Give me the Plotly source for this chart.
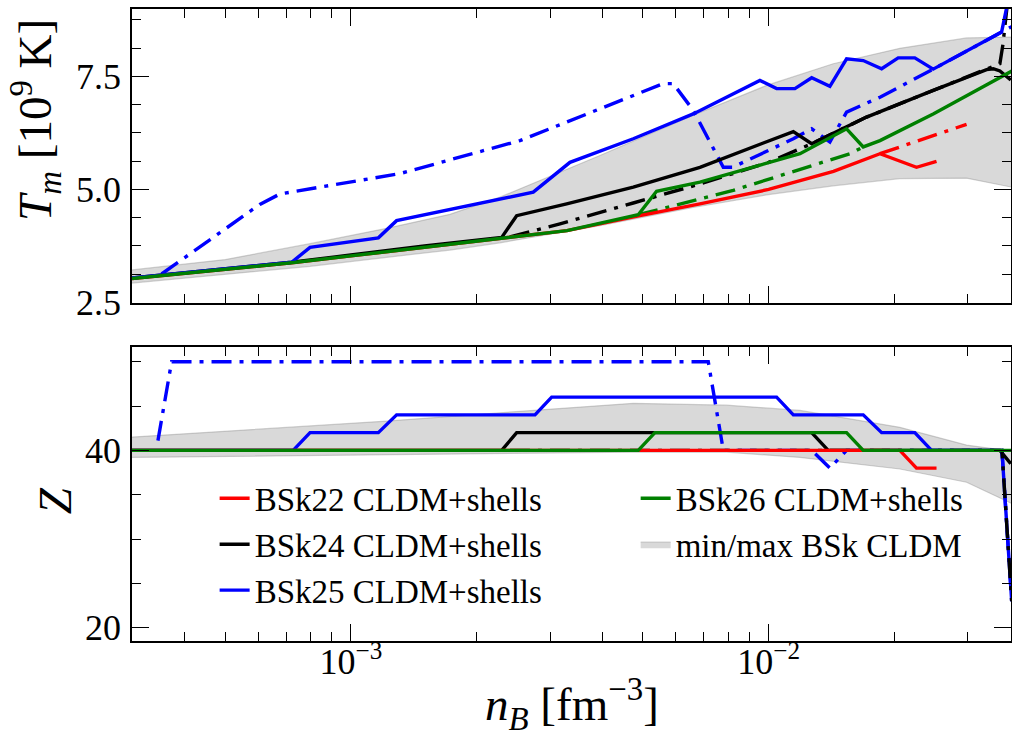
import plotly.graph_objects as go
from plotly.subplots import make_subplots

# ---------------- data ----------------
# Top panel: T_m [1e9 K] vs n_B [fm^-3]
band_n = [2.99e-4, 5.0e-4, 7.98e-4, 1.218e-3, 1.726e-3, 2.274e-3, 3.947e-3,
          6.6e-3, 9.89e-3, 1.428e-2, 2.062e-2, 2.979e-2, 3.824e-2]
band_T_hi = [3.22, 3.45, 3.8, 4.14, 4.45, 4.83, 5.75, 6.64, 7.3, 7.78, 8.12, 8.35, 8.37]
band_T_lo = [2.93, 3.12, 3.3, 3.5, 3.66, 3.82, 4.2, 4.6, 4.88, 5.08, 5.24, 5.25, 5.05]

red_n = [2.99e-4, 4.35e-4, 7.21e-4, 1.0e-3, 1.5e-3, 2.27e-3, 3.29e-3, 4.92e-3,
         6.85e-3, 1.0e-2, 1.43e-2, 1.848e-2, 2.26e-2, 2.524e-2]
red_T = [3.03, 3.18, 3.38, 3.53, 3.72, 3.9, 4.09, 4.42, 4.68, 5.0, 5.4, 5.79, 5.49, 5.62]
red_dd_n = [1.848e-2, 2.979e-2]
red_dd_T = [5.79, 6.44]

black_n = [2.99e-4, 4.35e-4, 7.21e-4, 1.0e-3, 1.5e-3, 2.296e-3, 2.493e-3, 3.285e-3,
           4.742e-3, 6.848e-3, 1.146e-2, 1.268e-2, 1.716e-2, 2.478e-2, 3.326e-2,
           3.45e-2, 3.58e-2, 3.80e-2]
black_T = [3.04, 3.19, 3.39, 3.55, 3.75, 3.94, 4.42, 4.68, 5.05, 5.49, 6.28, 6.01,
           6.6, 7.19, 7.65, 7.67, 7.62, 7.42]
black_dd_n = [2.402e-3, 3.166e-3, 4.742e-3, 6.848e-3, 1.0e-2, 1.268e-2, 1.716e-2,
              2.478e-2, 3.326e-2, 3.579e-2, 3.639e-2, 3.75e-2]
black_dd_T = [3.95, 4.24, 4.7, 5.12, 5.6, 6.01, 6.6, 7.19, 7.65, 7.78, 8.2, 9.3]

blue_n = [2.99e-4, 4.35e-4, 7.21e-4, 7.98e-4, 1.163e-3, 1.286e-3, 2.191e-3, 2.732e-3,
          3.345e-3, 4.742e-3, 6.6e-3, 9.532e-3, 1.045e-2, 1.156e-2, 1.268e-2,
          1.402e-2, 1.537e-2, 1.685e-2, 1.865e-2, 2.043e-2, 2.239e-2, 2.478e-2,
          3.613e-2, 3.75e-2]
blue_T = [3.04, 3.19, 3.39, 3.72, 3.93, 4.31, 4.76, 4.94, 5.60, 6.12, 6.67, 7.41,
          7.23, 7.23, 7.47, 7.28, 7.89, 7.85, 7.67, 7.91, 7.91, 7.66, 8.48, 9.2]
blue_dd_n = [3.52e-4, 6.05e-4, 6.76e-4, 1.31e-3, 2.539e-3, 5.594e-3, 5.91e-3, 6.6e-3,
             7.79e-3, 8.2e-3, 1.146e-2, 1.268e-2, 1.402e-2, 1.537e-2, 1.848e-2,
             2.478e-2, 3.613e-2, 3.82e-2]
blue_dd_T = [3.13, 4.67, 4.90, 5.35, 6.08, 7.34, 7.34, 6.75, 5.49, 5.49, 6.12, 6.34,
             6.05, 6.71, 7.04, 7.66, 8.48, 8.6]

green_n = [2.99e-4, 4.35e-4, 7.21e-4, 1.0e-3, 1.5e-3, 2.27e-3, 3.29e-3, 4.874e-3,
           5.392e-3, 6.848e-3, 1.189e-2, 1.537e-2, 1.685e-2, 1.848e-2, 2.478e-2, 3.824e-2]
green_T = [3.03, 3.18, 3.38, 3.53, 3.72, 3.9, 4.09, 4.44, 4.96, 5.16, 5.79, 6.34,
           5.94, 6.08, 6.67, 7.62]
green_dd_n = [4.874e-3, 6.848e-3, 8.227e-3, 1.565e-2, 1.685e-2]
green_dd_T = [4.44, 4.79, 4.98, 5.79, 5.94]

# Bottom panel: Z vs n_B
zband_n = [2.99e-4, 1.218e-3, 2.539e-3, 4.742e-3, 7.93e-3, 1.189e-2, 2.062e-2,
           2.979e-2, 3.824e-2]
zband_hi = [41.5, 43.3, 44.4, 45.3, 45.1, 44.5, 42.6, 40.6, 39.9]
zband_lo = [39.2, 39.5, 39.7, 39.8, 39.8, 39.2, 37.9, 36.4, 34.0]

red_z_n = [2.99e-4, 2.062e-2, 2.26e-2, 2.524e-2]
red_z = [40, 40, 38, 38]
black_z_n = [2.99e-4, 2.296e-3, 2.493e-3, 1.268e-2, 1.389e-2, 3.58e-2, 3.80e-2]
black_z = [40, 40, 42, 42, 40, 40, 38.5]
black_dd_z_n = [2.402e-3, 3.62e-2, 3.82e-2]
black_dd_z = [40, 40, 23]
blue_z_n = [2.99e-4, 7.27e-4, 7.98e-4, 1.163e-3, 1.286e-3, 2.758e-3, 3.024e-3,
            1.045e-2, 1.146e-2, 1.685e-2, 1.865e-2, 2.239e-2, 2.456e-2, 3.62e-2, 3.82e-2]
blue_z = [40, 40, 42, 42, 44, 44, 46, 46, 44, 44, 42, 42, 40, 40, 23]
blue_dd_z_n = [3.45e-4, 3.72e-4, 7.17e-3, 7.79e-3, 1.268e-2, 1.402e-2, 1.537e-2,
               3.62e-2, 3.82e-2]
blue_dd_z = [41.1, 50, 50, 40, 40, 38, 40, 40, 23]
green_z_n = [2.99e-4, 4.874e-3, 5.343e-3, 1.537e-2, 1.685e-2, 3.824e-2]
green_z = [40, 40, 42, 42, 40, 40]

x_ticks = [1e-3, 1e-2]
x_ticktext = ["10<sup>−3</sup>", "10<sup>−2</sup>"]
labels = ["BSk22 CLDM+shells", "BSk24 CLDM+shells", "BSk25 CLDM+shells",
          "BSk26 CLDM+shells", "min/max BSk CLDM"]

# ---------------- figure ----------------
FONT = "Liberation Serif"
RED, BLACK, BLUE, GREEN = "#ff0000", "#000000", "#0000ff", "#008000"
DD = "20px,8px,4px,8px"
LW = 3.4

fig = make_subplots(rows=2, cols=1, shared_xaxes=True, vertical_spacing=0.0712)

def band(xs, lo, hi, row, show):
    fig.add_trace(go.Scatter(x=xs, y=lo, mode="lines",
                             line=dict(color="rgba(128,128,128,0.35)", width=1.2),
                             legend="legend2", showlegend=False, hoverinfo="skip"),
                  row=row, col=1)
    fig.add_trace(go.Scatter(x=xs, y=hi, mode="lines", fill="tonexty",
                             fillcolor="rgba(128,128,128,0.3)",
                             line=dict(color="rgba(128,128,128,0.35)", width=1.2),
                             name=labels[4], legend="legend2", showlegend=show,
                             legendrank=2), row=row, col=1)

def line(xs, ys, color, row, dash="solid", name=None, legend="legend", rank=1):
    fig.add_trace(go.Scatter(x=xs, y=ys, mode="lines",
                             line=dict(color=color, width=LW, dash=dash),
                             name=name, showlegend=name is not None,
                             legend=legend, legendrank=rank), row=row, col=1)

# top panel
band(band_n, band_T_lo, band_T_hi, 1, True)
line(red_dd_n, red_dd_T, RED, 1, DD)
line(black_dd_n, black_dd_T, BLACK, 1, DD)
line(blue_dd_n, blue_dd_T, BLUE, 1, DD)
line(green_dd_n, green_dd_T, GREEN, 1, DD)
line(red_n, red_T, RED, 1, name=labels[0], rank=1)
line(black_n, black_T, BLACK, 1, name=labels[1], rank=2)
line(blue_n, blue_T, BLUE, 1, name=labels[2], rank=3)
line(green_n, green_T, GREEN, 1, name=labels[3], legend="legend2", rank=1)

# bottom panel
band(zband_n, zband_lo, zband_hi, 2, False)
line(blue_dd_z_n, blue_dd_z, BLUE, 2, DD)
line(black_z_n, black_z, BLACK, 2)
line(blue_z_n, blue_z, BLUE, 2)
line(black_dd_z_n, black_dd_z, BLACK, 2, DD)
line(red_z_n, red_z, RED, 2)
line(green_z_n, green_z, GREEN, 2)

axis_common = dict(showline=True, linecolor="black", linewidth=1.6, mirror="allticks",
                   ticks="inside", ticklen=17, tickwidth=1.4, tickcolor="black",
                   showgrid=False, zeroline=False, automargin=False,
                   tickfont=dict(family=FONT, size=36, color="black"))

minor_x = [m * 10.0 ** e for e in (-4, -3, -2) for m in range(2, 10)]
minor_x = [v for v in minor_x if 2.9e-4 < v < 3.9e-2]

for r in (1, 2):
    fig.update_xaxes(type="log", range=[-3.5243, -1.4196], tickmode="array",
                     tickvals=x_ticks, ticktext=x_ticktext, ticklabelstandoff=-12,
                     minor=dict(tickmode="array", tickvals=minor_x, ticks="inside",
                                ticklen=9, tickwidth=1.2, tickcolor="black", showgrid=False),
                     row=r, col=1, **axis_common)
fig.update_xaxes(showticklabels=False, row=1, col=1)

fig.update_yaxes(range=[2.5, 8.99], tickmode="linear", tick0=2.5, dtick=2.5,
                 tickformat=".1f", ticklabelstandoff=2,
                 minor=dict(dtick=0.625, ticks="inside", ticklen=9, tickwidth=1.2,
                            tickcolor="black", showgrid=False),
                 row=1, col=1, **axis_common)
fig.update_yaxes(range=[18.5, 51.6], tickmode="linear", tick0=20, dtick=20,
                 ticklabelstandoff=2,
                 minor=dict(dtick=5, ticks="inside", ticklen=9, tickwidth=1.2,
                            tickcolor="black", showgrid=False),
                 row=2, col=1, **axis_common)

title_font = dict(family=FONT, size=47, color="black")
fig.add_annotation(text="<i>T<sub>m</sub></i> [10<sup>9</sup> K]", font=title_font,
                   xref="paper", yref="paper", x=-0.11, y=0.825, textangle=-90,
                   xanchor="center", yanchor="middle", showarrow=False)
fig.add_annotation(text="<i>Z</i>", font=title_font,
                   xref="paper", yref="paper", x=-0.088, y=0.222, textangle=-90,
                   xanchor="center", yanchor="middle", showarrow=False)
fig.add_annotation(text="<i>n<sub>B</sub></i> [fm<sup>−3</sup>]", font=title_font,
                   xref="paper", yref="paper", x=0.5, y=-0.1,
                   xanchor="center", yanchor="middle", showarrow=False)

legend_style = dict(bgcolor="rgba(0,0,0,0)", borderwidth=0,
                    font=dict(family=FONT, size=33, color="black"),
                    xanchor="left", yanchor="top", tracegroupgap=0,
                    traceorder="normal")
fig.update_layout(
    width=1012, height=739,
    margin=dict(l=132, r=1, t=9, b=98),
    paper_bgcolor="white", plot_bgcolor="white",
    font=dict(family=FONT, color="black"),
    legend=dict(x=0.094, y=0.27, **legend_style),
    legend2=dict(x=0.573, y=0.27, **legend_style),
)

post = ("document.body.style.margin='0px';"
        "document.body.style.overflow='hidden';"
        "var gd=document.getElementById('{plot_id}');"
        "Plotly.relayout(gd,{width:1012,height:739});")

fig.write_html("out.html", post_script=post, config={"displayModeBar": False})
